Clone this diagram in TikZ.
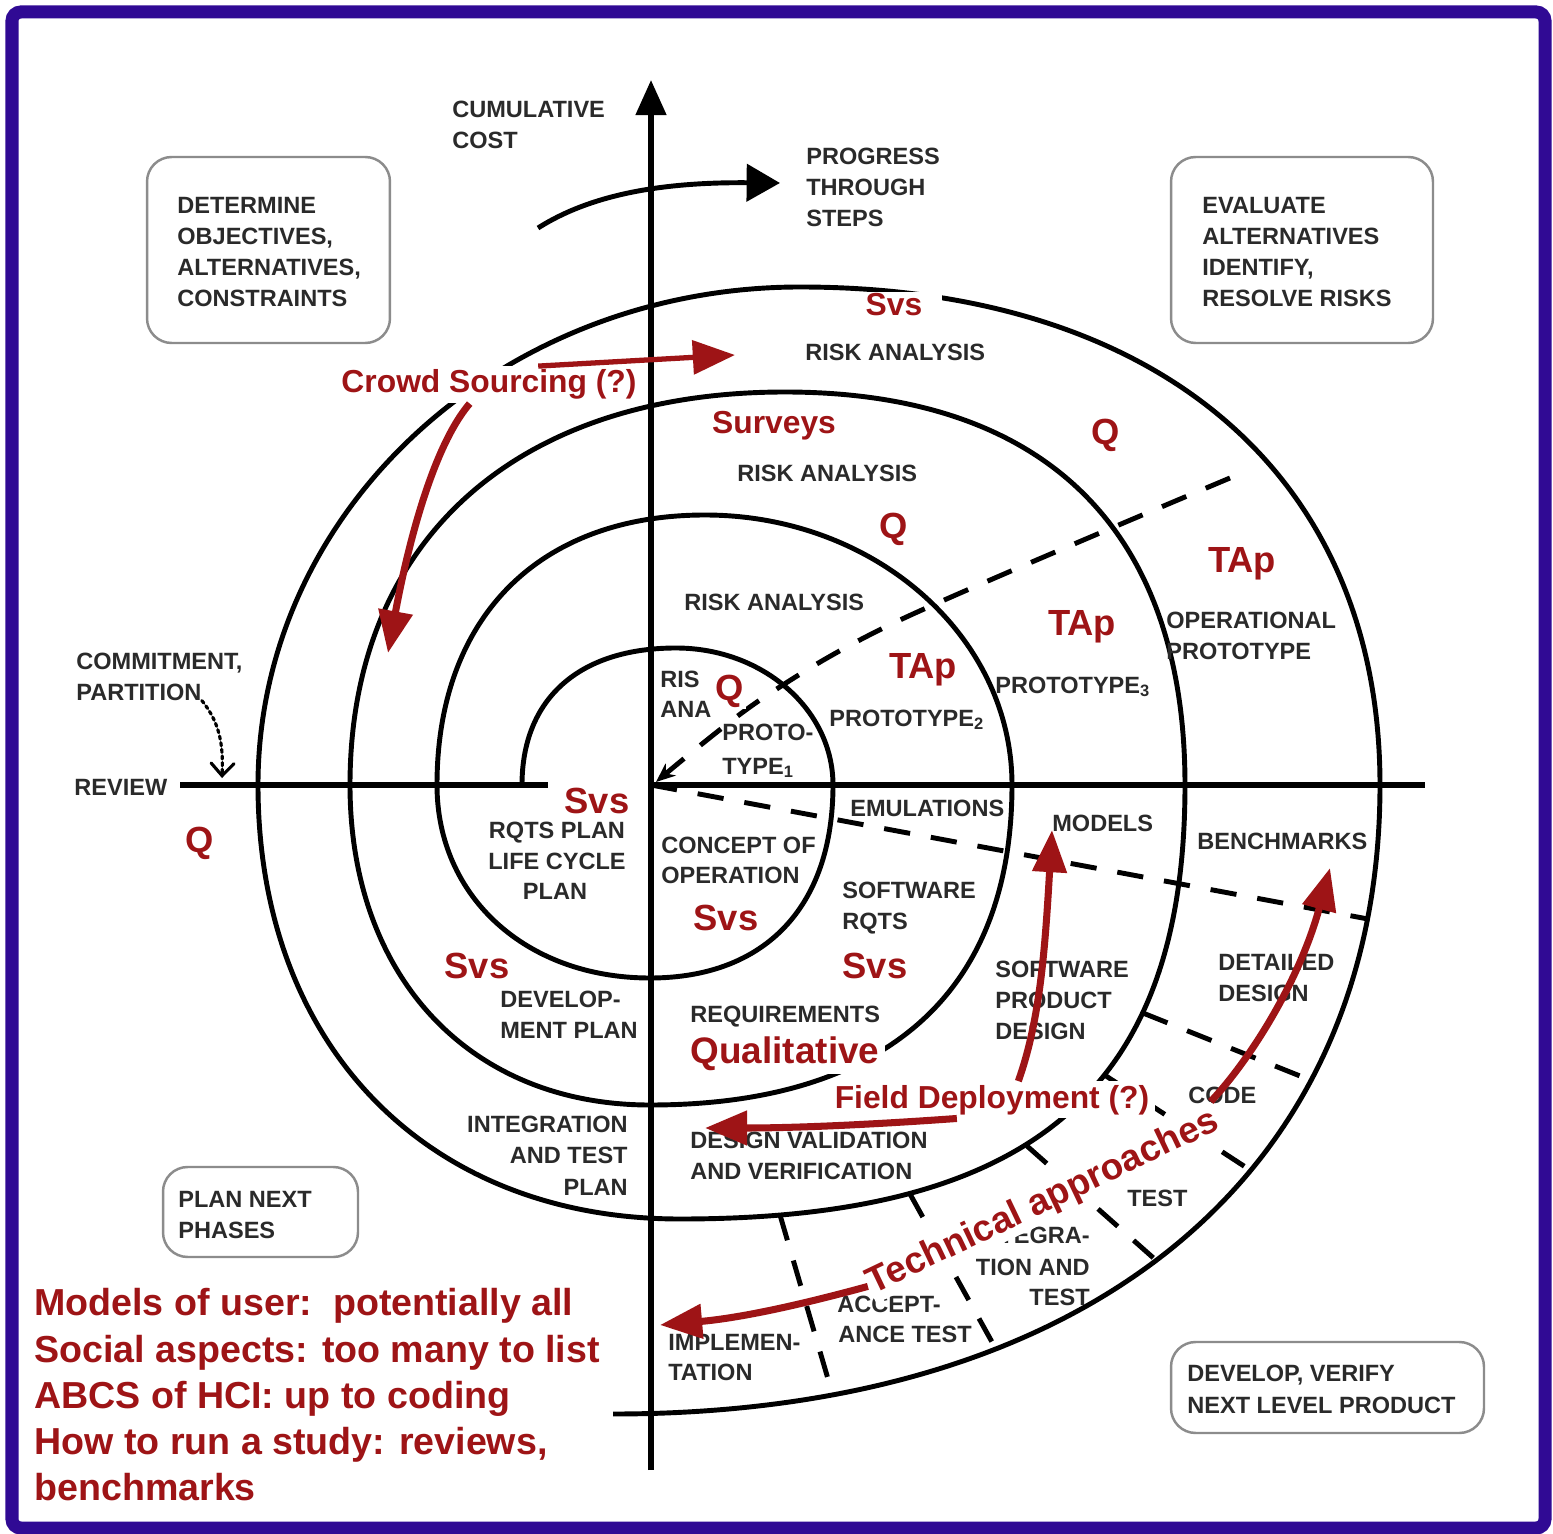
\documentclass[tikz,border=0pt]{standalone}
\usepackage{fontspec}
\setmainfont{Liberation Sans}
\usetikzlibrary{arrows.meta}

\definecolor{ink}{RGB}{42,42,42}
\definecolor{anno}{RGB}{158,20,22}
\definecolor{framecol}{RGB}{48,10,148}
\definecolor{boxline}{RGB}{140,140,140}

\tikzset{
  lbl/.style={anchor=base west, inner sep=0pt, text=ink,
    font=\fontsize{13.4}{16}\selectfont\bfseries},
  lblr/.style={lbl, anchor=base east},
  lblc/.style={lbl, anchor=base},
  note/.style={anchor=base, inner sep=0pt, text=anno,
    font=\fontsize{20.7}{24}\selectfont\bfseries},
  notesm/.style={note, font=\fontsize{18.1}{22}\selectfont\bfseries},
  listline/.style={anchor=base west, inner sep=0pt, text=anno,
    font=\fontsize{21.4}{26}\selectfont\bfseries},
  cover/.style={fill=white, inner xsep=3pt, inner ysep=2pt},
  spiral/.style={line width=2.8pt, line join=round},
  axisline/.style={line width=3.1pt},
  radial/.style={line width=2.8pt, dash pattern=on 15pt off 12pt},
  redarrow/.style={line width=4pt, anno, -{Triangle[length=24pt,width=19pt]}},
  phasebox/.style={draw=boxline, line width=1.4pt, rounded corners=14pt, inner sep=0pt},
}

\begin{document}
\begin{tikzpicture}[x=0.02cm,y=-0.02cm]
\useasboundingbox (0,0) rectangle (1553,1534);
\fill[white] (0,0) rectangle (1553,1534);

% extreme points of the spiral turns (left, top, right, bottom)
\coordinate (L1) at (522,785);  \coordinate (T1) at (676,648);
\coordinate (R1) at (833,785);  \coordinate (B1) at (650,978);
\coordinate (L2) at (437,785);  \coordinate (T2) at (705,515);
\coordinate (R2) at (1012,785); \coordinate (B2) at (650,1105);
\coordinate (L3) at (350,785);  \coordinate (T3) at (785,392);
\coordinate (R3) at (1185,785); \coordinate (B3) at (680,1219);
\coordinate (L4) at (258,785);  \coordinate (T4) at (800,287);
\coordinate (R4) at (1380,785); \coordinate (B4) at (613,1414);

% the spiral, one quarter turn per segment
\draw[spiral]
  (L1) .. controls (522,698.7)  and (579,648)     .. (T1)
       .. controls (762.7,648)  and (833,709.4)   .. (R1)
       .. controls (833,906.6)  and (765.3,978)   .. (B1)
       .. controls (526.5,978)  and (437,897)     .. (L2)
       .. controls (437,617.6)  and (538.8,515)   .. (T2)
       .. controls (874.5,515)  and (1012,636)    .. (R2)
       .. controls (1012,993)   and (885.3,1105)  .. (B2)
       .. controls (470,1105)   and (350,977)     .. (L3)
       .. controls (350,541.3)  and (515.3,392)   .. (T3)
       .. controls (1045,392)   and (1185,529.5)  .. (R3)
       .. controls (1185,1088.8) and (1033.5,1219) .. (B3)
       .. controls (426.8,1219) and (258,1045.4)  .. (L4)
       .. controls (258,510.1)  and (500.8,287)   .. (T4)
       .. controls (1159.6,287) and (1380,476.2)  .. (R4)
       .. controls (1380,1175)  and (1088.5,1414) .. (B4);

% axes
\coordinate (hl1) at (180,785);  \coordinate (hl2) at (548,785);
\coordinate (org) at (651,785);  \coordinate (hr) at (1425,785);
\coordinate (vtop) at (651,80);  \coordinate (vbot) at (651,1470);
\draw[axisline] (hl1) -- (hl2);
\draw[axisline] (org) -- (hr);
\draw[axisline,-{Triangle[length=20pt,width=17pt]}] (vbot) -- (vtop);

% radial dashed lines
\draw[radial,-{Stealth[length=11pt,width=9pt]}] plot[smooth,tension=0.5]
  coordinates {(1230,478) (900,620) (760,700) (656,782)};
\coordinate (d2a) at (651,785);   \coordinate (d2b) at (1368,919);
\draw[radial] (d2a) -- (d2b);
\coordinate (d3a) at (1143,1013); \coordinate (d3b) at (1310,1080);
\draw[radial] (d3a) -- (d3b);
\coordinate (d4a) at (1103,1074); \coordinate (d4b) at (1250,1170);
\draw[radial] (d4a) -- (d4b);
\coordinate (d5a) at (1027,1146); \coordinate (d5b) at (1158,1262);
\draw[radial] (d5a) -- (d5b);
\coordinate (d6a) at (910,1194);  \coordinate (d6b) at (997,1351);
\draw[radial] (d6a) -- (d6b);
\coordinate (d7a) at (780,1215);  \coordinate (d7b) at (833,1396);
\draw[radial] (d7a) -- (d7b);

% progress arrow
\coordinate (pstart) at (538,228); \coordinate (pend) at (780,183);
\draw[line width=2.8pt,-{Triangle[length=19pt,width=21pt]}]
  (pstart) .. controls (590,195) and (660,182) .. (pend);

% quadrant boxes
\node[phasebox, minimum width=4.86cm, minimum height=3.72cm] (objbox) at (268.5,250) {};
\node[phasebox, minimum width=5.24cm, minimum height=3.72cm] (evalbox) at (1302,250) {};
\node[phasebox, minimum width=3.9cm, minimum height=1.8cm] (planbox) at (260.5,1212) {};
\node[phasebox, minimum width=6.26cm, minimum height=1.82cm] (devbox) at (1327.5,1387.5) {};

% black labels
\node[lbl] (cum1) at (452,118) {CUMULATIVE};
\node[lbl] (cum2) at (452,149) {COST};
\node[lbl] (prog1) at (806,165) {PROGRESS};
\node[lbl] (prog2) at (806,196) {THROUGH};
\node[lbl] (prog3) at (806,227) {STEPS};
\node[lbl] (obj1) at (177,214) {DETERMINE};
\node[lbl] (obj2) at (177,245) {OBJECTIVES,};
\node[lbl] (obj3) at (177,276) {ALTERNATIVES,};
\node[lbl] (obj4) at (177,307) {CONSTRAINTS};
\node[lbl] (ev1) at (1202,214) {EVALUATE};
\node[lbl] (ev2) at (1202,245) {ALTERNATIVES};
\node[lbl] (ev3) at (1202,276) {IDENTIFY,};
\node[lbl] (ev4) at (1202,307) {RESOLVE RISKS};
\node[lbl] (ra4) at (805,360) {RISK ANALYSIS};
\node[lbl] (ra3) at (737,481) {RISK ANALYSIS};
\node[lbl] (ra2) at (684,610) {RISK ANALYSIS};
\node[lbl] (ra1a) at (660,687) {RIS};
\node[lbl] (ra1b) at (660,717) {ANA};
\node[lbl] (pt1a) at (722,740) {PROTO-};
\node[lbl] (pt1b) at (722,774) {TYPE\textsubscript{1}};
\node[lbl] (pt2) at (829,726) {PROTOTYPE\textsubscript{2}};
\node[lbl] (pt3) at (995,693) {PROTOTYPE\textsubscript{3}};
\node[lbl] (op1) at (1166,628) {OPERATIONAL};
\node[lbl] (op2) at (1166,659) {PROTOTYPE};
\node[lbl] (emu) at (850,816) {EMULATIONS};
\node[lbl] (mod) at (1052,831) {MODELS};
\node[lbl] (bench) at (1197,849) {BENCHMARKS};
\node[lblc] (rq1) at (557,838) {RQTS PLAN};
\node[lblc] (rq2) at (557,869) {LIFE CYCLE};
\node[lblc] (rq3) at (555,899) {PLAN};
\node[lbl] (co1) at (661,853) {CONCEPT OF};
\node[lbl] (co2) at (661,883) {OPERATION};
\node[lbl] (sr1) at (842,898) {SOFTWARE};
\node[lbl] (sr2) at (842,929) {RQTS};
\node[lbl] (dp1) at (500,1007) {DEVELOP-};
\node[lbl] (dp2) at (500,1038) {MENT PLAN};
\node[lbl] (req) at (690,1022) {REQUIREMENTS};
\node[lbl] (dv1) at (690,1148) {DESIGN VALIDATION};
\node[lbl] (dv2) at (690,1179) {AND VERIFICATION};
\node[lbl] (spd1) at (995,977) {SOFTWARE};
\node[lbl] (spd2) at (995,1008) {PRODUCT};
\node[lbl] (spd3) at (995,1039) {DESIGN};
\node[lbl] (dd1) at (1218,970) {DETAILED};
\node[lbl] (dd2) at (1218,1001) {DESIGN};
\node[lbl] (code) at (1188,1103) {CODE};
\node[lblr] (it1) at (628,1132) {INTEGRATION};
\node[lblr] (it2) at (628,1163) {AND TEST};
\node[lblr] (it3) at (628,1195) {PLAN};
\node[lbl] (ut) at (1127,1206) {TEST};
\node[lblr] (ig1) at (1090,1243) {INTEGRA-};
\node[lblr] (ig2) at (1090,1275) {TION AND};
\node[lblr] (ig3) at (1090,1305) {TEST};
\node[lbl] (ac1) at (837,1312) {ACCEPT-};
\node[lbl] (ac2) at (838,1342) {ANCE TEST};
\node[lbl] (im1) at (668,1350) {IMPLEMEN-};
\node[lbl] (im2) at (668,1380) {TATION};
\node[lbl] (cm1) at (76,669) {COMMITMENT,};
\node[lbl] (cm2) at (76,700) {PARTITION};
\node[lbl] (rev) at (74,795) {REVIEW};
\node[lbl] (pn1) at (178,1207) {PLAN NEXT};
\node[lbl] (pn2) at (178,1238) {PHASES};
\node[lbl] (dvp1) at (1187,1381) {DEVELOP, VERIFY};
\node[lbl] (dvp2) at (1187,1413) {NEXT LEVEL PRODUCT};

% commitment pointer
\coordinate (revpt) at (222,778);
\draw[line width=1.8pt, dotted, line cap=round,
      -{Straight Barb[length=7pt,width=13pt,line cap=round]}]
  (cm2.south east) .. controls (222,725) and (223,750) .. (revpt);

% red annotations
\node[notesm, cover] (cs) at (489,393) {Crowd Sourcing (?)};
\node[notesm] (surv) at (774,434) {Surveys};
\node[notesm, fill=white, inner xsep=11pt, inner ysep=1pt] (svs4) at (894,316) {Svs};
\node[note] (q4) at (1106,444) {Q};
\node[note] (q3) at (894,538) {Q};
\node[note] (tap3) at (1242,572) {TAp};
\node[note] (tap2) at (1082,635) {TAp};
\node[note] (tap1) at (923,678) {TAp};
\node[note, fill=white, inner sep=1pt] (q1) at (730,700) {Q};
\node[note, cover] (svs0) at (597,813) {Svs};
\node[note] (q0) at (200,852) {Q};
\node[note] (svs1) at (726,930) {Svs};
\node[note] (svs2) at (477,978) {Svs};
\node[note] (svs3) at (875,978) {Svs};
\node[note, font=\fontsize{21}{24}\selectfont\bfseries, cover] (qual) at (785,1063) {Qualitative};
\node[notesm, cover] (fd) at (992,1108) {Field Deployment (?)};
\node[note, anchor=base west, fill=white, inner sep=1pt, rotate=25.5,
      font=\fontsize{21}{24}\selectfont\bfseries] (tech) at (872,1295) {Technical approaches};

\node[listline] (l1) at (34,1315) {Models of user:\ \ potentially all};
\node[listline] (l2) at (34,1362) {Social aspects: too many to list};
\node[listline] (l3) at (34,1408) {ABCS of HCI: up to coding};
\node[listline] (l4) at (34,1454) {How to run a study: reviews,};
\node[listline] (l5) at (34,1500) {benchmarks};

% red arrows
\coordinate (csright) at (735,355);
\coordinate (csdown) at (388,653);
\coordinate (fdleft) at (705,1128);
\coordinate (fdup) at (1052,830);
\coordinate (techleft) at (660,1325);
\coordinate (techup) at (1330,868);
\draw[redarrow, line width=3pt] ([xshift=28pt]cs.north) -- (csright);
\draw[redarrow] ([xshift=-11pt]cs.south) .. controls (430,450) and (405,560) .. (csdown);
\draw[redarrow] ([xshift=-20pt]fd.south) .. controls (880,1124) and (800,1128) .. (fdleft);
\draw[redarrow] ([xshift=15pt]fd.north) .. controls (1040,1020) and (1045,950) .. (fdup);
\draw[redarrow] (tech.west) .. controls (800,1305) and (740,1318) .. (techleft);
\draw[redarrow] (tech.north east) .. controls (1250,1060) and (1300,980) .. (techup);

% frame
\draw[framecol, line width=7.4pt, rounded corners=5pt] (12,12) rectangle (1545,1528);
\end{tikzpicture}
\end{document}
